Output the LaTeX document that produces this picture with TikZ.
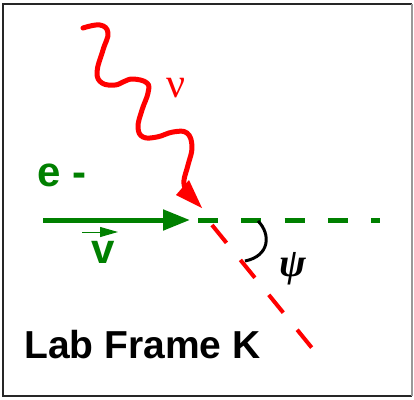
\documentclass[tikz,border=0pt]{standalone}
\usepackage{fontspec}
\usetikzlibrary{arrows.meta}
\newfontfamily\sansb{Liberation Sans}
\newfontfamily\serifg{Liberation Serif}
\definecolor{cred}{RGB}{255,0,0}
\definecolor{cgreen}{RGB}{0,128,0}
\begin{document}
\begin{tikzpicture}[x=1pt,y=-1pt,
  wave/.style={cred, line width=5pt, line cap=round, line join=round},
  glabel/.style={anchor=base west, inner sep=0pt, text=cgreen, font=\sansb\bfseries\fontsize{42}{42}\selectfont},
  frameedge/.style={black!85, line width=2pt}]
\useasboundingbox (0,0) rectangle (414,399);
% frame
\draw[frameedge] (412,4) -- (3,4) -- (3,396) -- (412,396);
\draw[black!40, line width=1.5pt] (412,4) -- (412,396);
% named points
\coordinate (estart) at (43,220);
\coordinate (eend) at (190,220);
\coordinate (gdash0) at (198,220);
\coordinate (gdash1) at (380,220);
\coordinate (rdash0) at (212,225);
\coordinate (rdash1) at (312,348);
\coordinate (arc0) at (258,221);
\coordinate (arc1) at (245,261);
\coordinate (vec0) at (82,232);
\coordinate (vec1) at (118,232);
\coordinate (nutip) at (202,208);
% electron line
\draw[cgreen, line width=5pt, -{Triangle[length=27pt,width=20pt]}] (estart) -- (eend);
\draw[cgreen, line width=5pt, dash pattern=on 20pt off 23.3pt] (gdash0) -- (gdash1);
% scattered photon (dashed)
\draw[cred, line width=4pt, dash pattern=on 23pt off 22pt] (rdash0) -- (rdash1);
% incoming photon (wavy)
\draw[wave] plot[smooth, tension=0.7] coordinates {(83,28) (100,25) (108,33) (103,50) (97,72) (102,83) (115,85) (123,82) (133,79) (147,83) (148,93) (142,110) (138,127) (143,137) (157,137) (173,132) (187,133) (192,147) (188,165) (184,180) (185,188)};
\fill[cred] (176,195) -- (nutip) -- (189,180) -- cycle;
% angle arc
\draw[black, line width=3pt] (arc0) .. controls (271,234) and (270,256) .. (arc1);
% labels
\node[glabel] (elab) at (37.5,186) {e -};
\node[glabel] (vlab) at (91,263) {v};
\draw[cgreen, line width=1pt, -{Triangle[length=18pt,width=10pt]}] (vec0) -- (vec1);
\node[anchor=base, inner sep=0pt, text=cred, font=\serifg\fontsize{42}{42}\selectfont] (nulab) at (176,97) {ν};
\node[inner sep=0pt, font=\serifg\bfseries\itshape\fontsize{40}{40}\selectfont] (psilab) at (293,269) {ψ};
\node[anchor=base west, inner sep=0pt, font=\sansb\bfseries\fontsize{39}{39}\selectfont] (title) at (24,358) {Lab Frame K};
\end{tikzpicture}
\end{document}
